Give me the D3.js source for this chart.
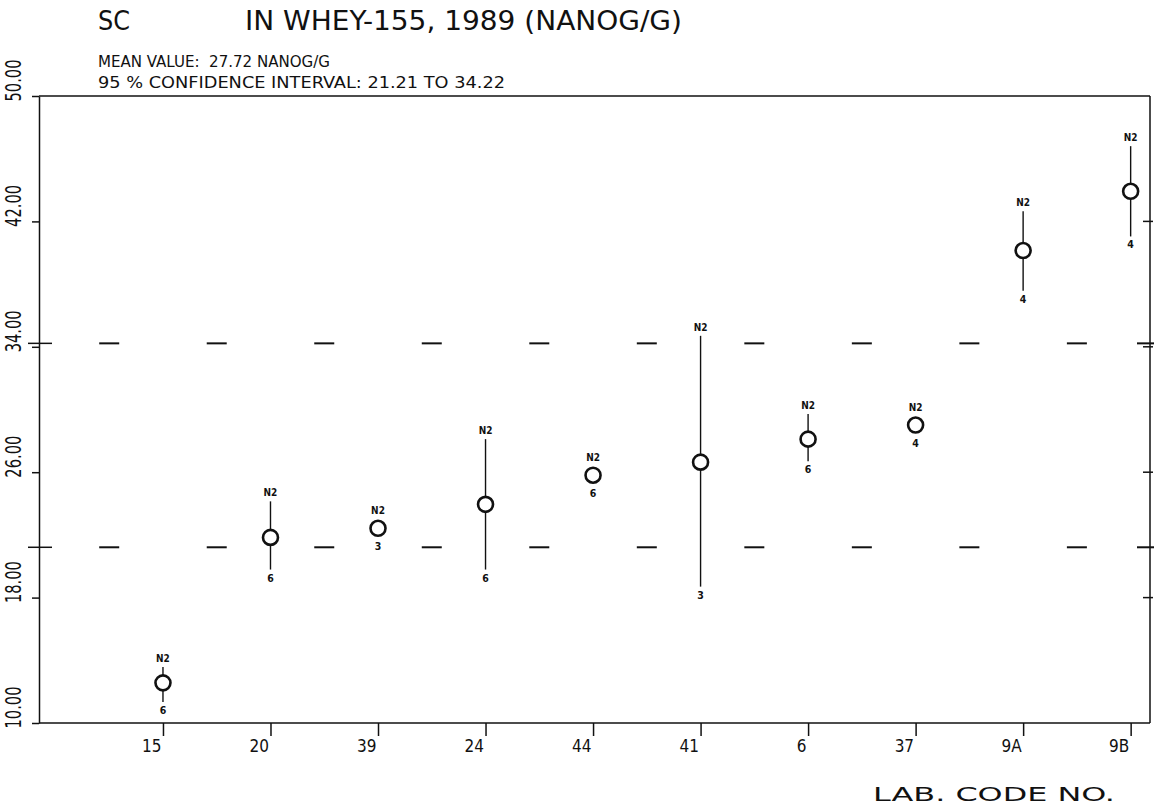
<!DOCTYPE html>
<html>
<head>
<meta charset="utf-8">
<script src="https://cdn.jsdelivr.net/npm/d3@7"></script>
<style>
  body { margin: 0; background: #fff; }
  svg text { font-family: 'DejaVu Sans Condensed', 'DejaVu Sans', sans-serif; fill: #111; white-space: pre; }
</style>
</head>
<body>
<div id="chart"></div>
<script>
// lab codes in plotted order
const labCodes = ['15', '20', '39', '24', '44', '41', '6', '37', '9A', '9B'];
// lab means and error bar ends (nanog/g)
const labMeans = [12.56, 21.84, 22.42, 23.95, 25.81, 26.64, 28.11, 29.01, 40.14, 43.92];
const labLows  = [11.34, 19.79, 22.15, 19.79, 25.55, 18.70, 26.70, 28.75, 37.58, 41.04];
const labHighs = [13.58, 24.14, 22.70, 28.11, 26.10, 34.70, 29.71, 29.30, 42.64, 46.80];
const topLabels = ['N2', 'N2', 'N2', 'N2', 'N2', 'N2', 'N2', 'N2', 'N2', 'N2'];
const nLabels = ['6', '6', '3', '6', '6', '3', '6', '4', '4', '4'];
const yTicks = [10, 18, 26, 34, 42, 50];
const meanValue = 27.72;
const ciLow = 21.21;
const ciHigh = 34.22;

const svg = d3.select('#chart')
              .append('svg')
              .attr('width', 1154)
              .attr('height', 810);

let x = d3.scaleLinear()
          .domain([-1.153, 9.18])
          .range([39, 1150]);

let y = d3.scaleLinear()
          .domain([10, 50])
          .range([723, 96]);

const left = x.range()[0], right = x.range()[1];

// titles
svg.append('text').attr('x', 98).attr('y', 30)
   .attr('font-size', 27).attr('textLength', 32).attr('lengthAdjust', 'spacingAndGlyphs')
   .text('SC');
svg.append('text').attr('x', 245).attr('y', 30)
   .attr('font-size', 27).attr('textLength', 437).attr('lengthAdjust', 'spacingAndGlyphs')
   .text('IN WHEY-155, 1989 (NANOG/G)');
svg.append('text').attr('x', 98).attr('y', 67)
   .attr('font-size', 15).attr('textLength', 232).attr('lengthAdjust', 'spacingAndGlyphs')
   .text('MEAN VALUE:  ' + meanValue.toFixed(2) + ' NANOG/G');
svg.append('text').attr('x', 98).attr('y', 88)
   .attr('font-size', 15).attr('textLength', 407).attr('lengthAdjust', 'spacingAndGlyphs')
   .text('95 % CONFIDENCE INTERVAL: ' + ciLow.toFixed(2) + ' TO ' + ciHigh.toFixed(2));

// frame: top and right
svg.append('line').attr('x1', left).attr('x2', right).attr('y1', y(50)).attr('y2', y(50))
   .attr('stroke', '#111').attr('stroke-width', 1.5);
svg.append('line').attr('x1', right).attr('x2', right).attr('y1', y(50)).attr('y2', y(10))
   .attr('stroke', '#111').attr('stroke-width', 1.5);

// left axis
let yAxis = svg.append('g')
               .attr('transform', 'translate(' + left + ',0)')
               .call(d3.axisLeft(y).tickValues(yTicks).tickSize(7).tickSizeOuter(0).tickFormat(''));
yAxis.selectAll('path, line').attr('stroke', '#111').attr('stroke-width', 1.5);

yAxis.selectAll('.tick')
     .append('text')
       .attr('transform', 'translate(' + (-left + 21) + ',5) rotate(-90)')
       .attr('x', 0).attr('y', 0)
       .attr('text-anchor', 'start')
       .attr('font-size', 21)
       .attr('textLength', 42).attr('lengthAdjust', 'spacingAndGlyphs')
       .text(d => d.toFixed(2));

// right axis inner ticks
svg.append('g').selectAll('line')
   .data(yTicks.filter(d => d > 10 && d < 50))
   .join('line')
     .attr('x1', right - 7).attr('x2', right + 3)
     .attr('y1', d => y(d)).attr('y2', d => y(d))
     .attr('stroke', '#111').attr('stroke-width', 1.5);

// bottom axis
let xAxis = svg.append('g')
               .attr('transform', 'translate(0,' + y(10) + ')')
               .call(d3.axisBottom(x).tickValues(d3.range(labCodes.length)).tickSize(13).tickSizeOuter(0)
                       .tickFormat(i => labCodes[i]));
xAxis.select('.domain').attr('d', 'M' + left + ',0H' + right);
xAxis.selectAll('path, line').attr('stroke', '#111').attr('stroke-width', 1.5);
xAxis.selectAll('text')
     .attr('x', -2).attr('y', 29).attr('dy', null)
     .attr('text-anchor', 'end')
     .attr('font-size', 17)
     .style('font-family', "'DejaVu Sans Condensed', 'DejaVu Sans', sans-serif")
     .attr('fill', '#111');

svg.append('text').attr('x', 873).attr('y', 801)
   .attr('font-size', 20).attr('textLength', 242).attr('lengthAdjust', 'spacingAndGlyphs')
   .text('LAB. CODE NO.');

// confidence interval dashes
const dashSlots = d3.range(labCodes.length).map(i => i - 0.5);
[ciLow, ciHigh].forEach(v => {
  svg.append('g').selectAll('line')
     .data(dashSlots)
     .join('line')
       .attr('x1', d => x(d) - 10).attr('x2', d => x(d) + 10)
       .attr('y1', y(v)).attr('y2', y(v))
       .attr('stroke', '#111').attr('stroke-width', 2);
  svg.append('line').attr('x1', left - 11).attr('x2', left + 13)
     .attr('y1', y(v)).attr('y2', y(v)).attr('stroke', '#111').attr('stroke-width', 1.5);
  svg.append('line').attr('x1', right - 13).attr('x2', right + 5)
     .attr('y1', y(v)).attr('y2', y(v)).attr('stroke', '#111').attr('stroke-width', 2);
});

// lab results
const labs = labCodes.map((c, i) => ({
  i: i, mean: labMeans[i], lo: labLows[i], hi: labHighs[i], top: topLabels[i], n: nLabels[i]
}));
const r = 7.5;

let pts = svg.append('g').selectAll('g')
             .data(labs)
             .join('g');

pts.append('line')
   .attr('x1', d => x(d.i)).attr('x2', d => x(d.i))
   .attr('y1', d => y(d.hi)).attr('y2', d => y(d.lo))
   .attr('stroke', '#111').attr('stroke-width', 1.4);

pts.append('circle')
   .attr('cx', d => x(d.i)).attr('cy', d => y(d.mean))
   .attr('r', r)
   .attr('fill', '#fff').attr('stroke', '#111').attr('stroke-width', 2.6);

pts.append('text')
   .attr('x', d => x(d.i)).attr('y', d => Math.min(y(d.hi), y(d.mean) - r - 2) - 5)
   .attr('text-anchor', 'middle').attr('font-size', 10).attr('font-weight', 'bold')
   .text(d => d.top);

pts.append('text')
   .attr('x', d => x(d.i)).attr('y', d => Math.max(y(d.lo), y(d.mean) + r + 2) + 12)
   .attr('text-anchor', 'middle').attr('font-size', 10.5).attr('font-weight', 'bold')
   .text(d => d.n);
</script>
</body>
</html>
